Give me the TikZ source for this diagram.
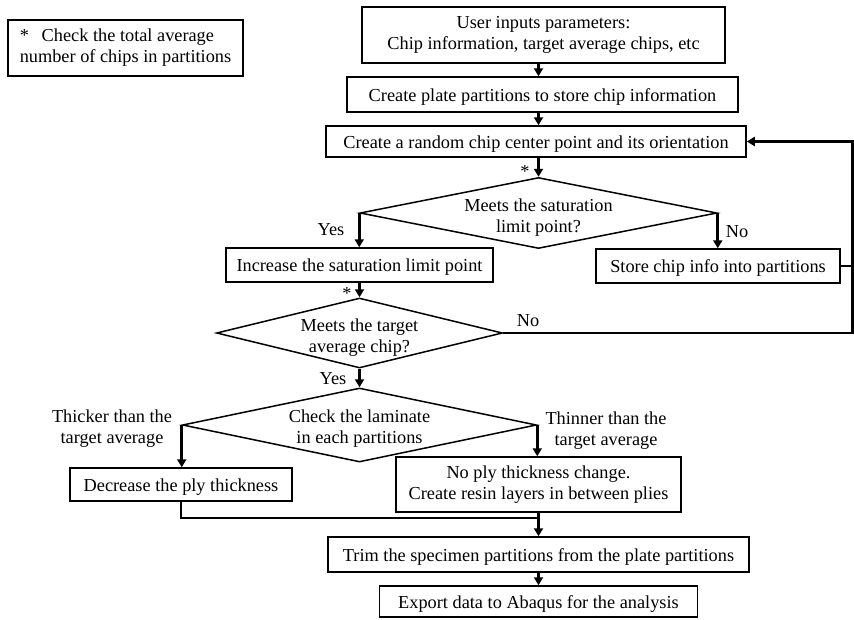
\documentclass[tikz,border=0pt]{standalone}
\usepackage{fontspec}
\setmainfont{Liberation Serif}
\usetikzlibrary{shapes.geometric,arrows.meta}
\begin{document}
\begin{tikzpicture}[x=1pt,y=-1pt,
  every node/.style={font=\fontsize{18.3}{21}\selectfont},
  box/.style={draw, line width=1.5pt, inner sep=0pt, align=center,
    execute at begin node={\rule{0pt}{17.5pt}}},
  dia/.style={draw, diamond, line width=1.5pt, inner sep=0pt},
  txt/.style={align=center, inner sep=0pt},
  conn/.style={line width=2.6pt},
  arr/.style={conn, -{Triangle[length=8pt,width=9pt]}},
]
\fill[white] (0,0) rectangle (854,619);
\useasboundingbox (0,0) rectangle (854,619);

% note
\node[box, minimum width=235, minimum height=56, align=left] (note) at (125.5,48)
  {*\hspace{0.7em}Check the total average\\number of chips in partitions};

% boxes
\node[box, minimum width=363, minimum height=56] (b1) at (543.5,35)
  {User inputs parameters:\\Chip information, target average chips, etc};
\node[box, minimum width=391, minimum height=35] (b2) at (542.5,94.5)
  {Create plate partitions to store chip information};
\node[box, minimum width=420, minimum height=31] (b3) at (536,141.5)
  {Create a random chip center point and its orientation};
\node[dia, minimum width=357, minimum height=71] (d1) at (538.5,213) {};
\node[txt] (t1) at (538.5,218) {Meets the saturation\\limit point?};
\node[box, minimum width=267, minimum height=34] (b4) at (359.5,265)
  {Increase the saturation limit point};
\node[box, minimum width=244, minimum height=34] (b5) at (718,266)
  {Store chip info into partitions};
\node[dia, minimum width=286, minimum height=70] (d2) at (359.5,333) {};
\node[txt] (t2) at (359.5,338) {Meets the target\\average chip?};
\node[dia, minimum width=354, minimum height=74] (d3) at (359.5,425) {};
\node[txt] (t3) at (359.5,429) {Check the laminate\\in each partitions};
\node[box, minimum width=222, minimum height=33] (b6) at (181,484.5)
  {Decrease the ply thickness};
\node[box, minimum width=285, minimum height=55] (b7) at (538.5,484.5)
  {No ply thickness change.\\Create resin layers in between plies};
\node[box, minimum width=421, minimum height=35] (b8) at (538.5,554.5)
  {Trim the specimen partitions from the plate partitions};
\node[box, minimum width=318, minimum height=31] (b9) at (538.5,601.5)
  {Export data to Abaqus for the analysis};

% labels
\node[txt] (s1) at (525,172) {*};
\node[txt] (s2) at (347,294) {*};
\node[txt] (ly1) at (331,230) {Yes};
\node[txt] (ln1) at (737,232) {No};
\node[txt] (ln2) at (528,321) {No};
\node[txt] (ly2) at (333,379) {Yes};
\node[txt] (thk) at (112,428.5) {Thicker than the\\target average};
\node[txt] (thn) at (606,431) {Thinner than the\\target average};

% connectors
\coordinate (rc) at (852.5,0);
\coordinate (m) at (538.5,518);
\draw[arr] (b1.south -| d1.north) -- (b2.north -| d1.north);
\draw[arr] (b2.south -| d1.north) -- (b3.north -| d1.north);
\draw[arr] (b3.south -| d1.north) -- (d1.north);
\draw[arr] (d1.west) -- (d1.west |- b4.north);
\draw[arr] (d1.east) -- (d1.east |- b5.north);
\draw[conn] (b5.east) -- (b5.east -| rc);
\draw[arr] (d2.east) -- (d2.east -| rc) -- (b3.east -| rc) -- (b3.east);
\draw[arr] (b4.south) -- (d2.north);
\draw[arr] (d2.south) -- (d3.north);
\draw[arr] (d3.west) -- (d3.west |- b6.north);
\draw[arr] (d3.east) -- (d3.east |- b7.north);
\draw[conn] (b6.south) |- (m);
\draw[arr] (b7.south) -- (b8.north);
\draw[arr] (b8.south) -- (b9.north);
\end{tikzpicture}
\end{document}
